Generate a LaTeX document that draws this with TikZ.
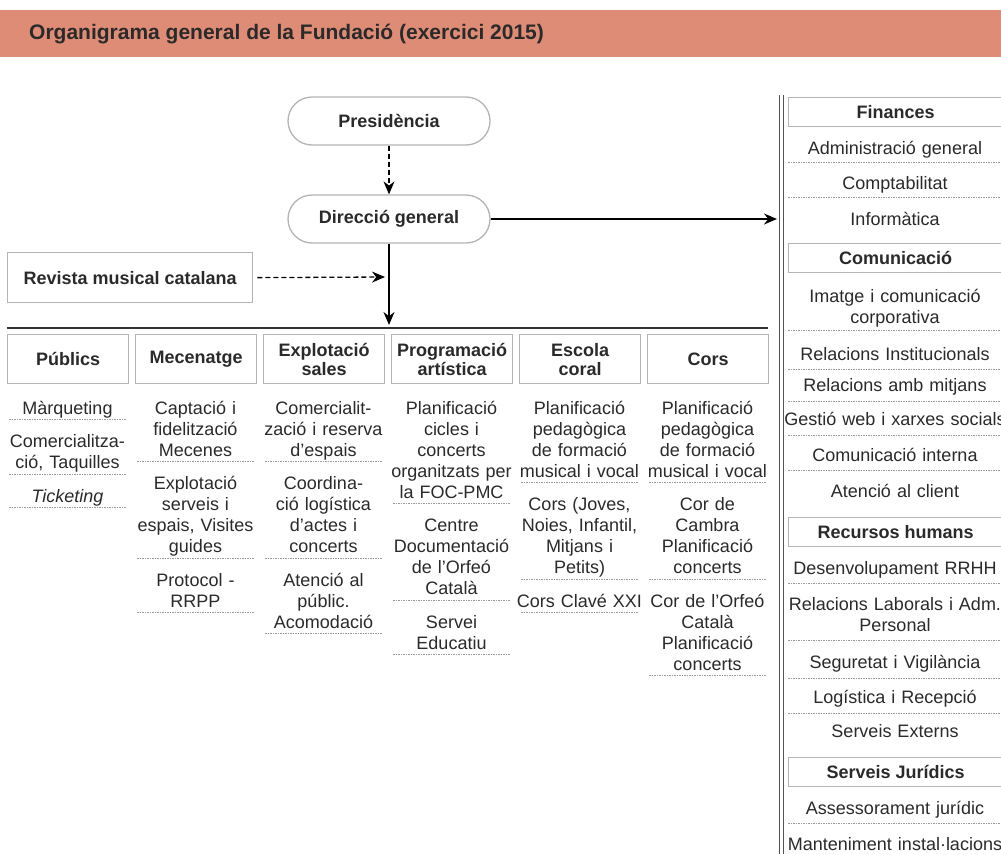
\documentclass[tikz,border=0pt]{standalone}
\usepackage{fontspec}
\setmainfont{Liberation Sans}
\usetikzlibrary{arrows.meta}
\definecolor{barcol}{HTML}{DE8C76}
\definecolor{boxgray}{HTML}{B4B4B4}
\definecolor{txt}{HTML}{2A2A2A}
\definecolor{sepgray}{HTML}{9A9A9A}
\definecolor{linecol}{HTML}{333333}
\begin{document}
\begin{tikzpicture}[x=1pt,y=-1pt,
  hdr/.style={draw=boxgray, line width=1.3pt, minimum width=121pt, minimum height=49pt,
    inner sep=0pt, align=center, anchor=north west, text=txt,
    font=\bfseries\fontsize{18}{19}\selectfont},
  rhdr/.style={draw=boxgray, line width=1.3pt, minimum width=214pt, minimum height=29pt,
    inner sep=0pt, anchor=north west, text=txt, font=\bfseries\fontsize{18}{20}\selectfont},
  pill/.style={draw=boxgray, line width=1.3pt, minimum width=202pt, minimum height=48pt,
    rounded corners=24pt, inner sep=0pt, text=txt, font=\bfseries\fontsize{18}{20}\selectfont},
  item/.style={text width=126pt, align=center, inner sep=0pt, anchor=base, text=txt,
    font=\fontsize{18}{21}\selectfont},
  ritem/.style={text width=240pt, align=center, inner sep=0pt, anchor=base, text=txt,
    font=\fontsize{18}{21}\selectfont},
  sepline/.style={draw=sepgray, line width=0.8pt, dash pattern=on 1.5pt off 1pt},
  solidarrow/.style={draw=black, line width=1.4pt, -{Stealth[length=13pt,width=11pt]}},
  dasharrow/.style={draw=black, line width=1.3pt, dash pattern=on 5pt off 3pt, -{Stealth[length=13pt,width=11pt]}}
]
\useasboundingbox (0,0) rectangle (1001,854);
\fill[white] (0,0) rectangle (1001,854);

% title bar
\fill[barcol] (0,10) rectangle (1001,57);
\node[anchor=west, inner sep=0pt, text=txt, font=\bfseries\fontsize{21}{23}\selectfont] (title) at (29,34) {Organigrama general de la Fundació (exercici 2015)};

% top
\node[pill] (pres) at (389,121) {Presidència};
\node[pill] (dir) at (389,219) {Direcció general};
\node[draw=boxgray, line width=1.3pt, minimum width=245pt, minimum height=50pt, inner sep=0pt,
  anchor=north west, text=txt, font=\bfseries\fontsize{18}{20}\selectfont] (rev) at (7,252) {Revista musical catalana};

\coordinate (finin) at (777,219);
\coordinate (hl) at (389,325);
\coordinate (revend) at (385,277);
\draw[dasharrow] (pres.south) -- (dir.north);
\draw[solidarrow] (dir.east) -- (finin);
\draw[solidarrow] (dir.south) -- (hl);
\draw[dasharrow, shorten <=4pt] (rev.east) -- (revend);

% horizontal and vertical rules
\draw[linecol, line width=2pt] (7,328) -- (768,328);
\draw[linecol!85, line width=0.9pt] (779,95) -- (779,854);
\draw[linecol!85, line width=0.9pt] (783,95) -- (783,854);

% column headers
\node[hdr] (hP) at (7,334) {Públics};
\node[hdr] (hM) at (135,334) {Mecenatge};
\node[hdr] (hE) at (263,334) {Explotació\\sales};
\node[hdr] (hG) at (391,334) {Programació\\artística};
\node[hdr] (hS) at (519,334) {Escola\\coral};
\node[hdr] (hC) at (647,334) {Cors};

% Públics
\node[item] (p1) at (67.5,414) {Màrqueting};
\draw[sepline] (9,419.5) -- (126,419.5);
\node[item] (p2) at (67.5,447.5) {Comercialitza-\\ció, Taquilles};
\draw[sepline] (9,474) -- (126,474);
\node[item] (p3) at (67.5,502) {\itshape Ticketing};
\draw[sepline] (9,507.5) -- (126,507.5);

% Mecenatge
\node[item] (m1) at (195.5,414) {Captació i\\fidelització\\Mecenes};
\draw[sepline] (137,461.5) -- (254,461.5);
\node[item] (m2) at (195.5,489.5) {Explotació\\serveis i\\espais, Visites\\guides};
\draw[sepline] (137,558) -- (254,558);
\node[item] (m3) at (195.5,586) {Protocol -\\RRPP};
\draw[sepline] (137,612.5) -- (254,612.5);

% Explotació sales
\node[item] (e1) at (323.5,414) {Comercialit-\\zació i reserva\\d’espais};
\draw[sepline] (265,461.5) -- (382,461.5);
\node[item] (e2) at (323.5,489.5) {Coordina-\\ció logística\\d’actes i\\concerts};
\draw[sepline] (265,558) -- (382,558);
\node[item] (e3) at (323.5,586) {Atenció al\\públic.\\Acomodació};
\draw[sepline] (265,633.5) -- (382,633.5);

% Programació artística
\node[item] (g1) at (451.5,414) {Planificació\\cicles i\\concerts\\organitzats per\\la FOC-PMC};
\draw[sepline] (393,503.5) -- (510,503.5);
\node[item] (g2) at (451.5,531.5) {Centre\\Documentació\\de l’Orfeó\\Català};
\draw[sepline] (393,600) -- (510,600);
\node[item] (g3) at (451.5,628) {Servei\\Educatiu};
\draw[sepline] (393,654.5) -- (510,654.5);

% Escola coral
\node[item] (s1) at (579.5,414) {Planificació\\pedagògica\\de formació\\musical i vocal};
\draw[sepline] (521,482.5) -- (638,482.5);
\node[item] (s2) at (579.5,510.5) {Cors (Joves,\\Noies, Infantil,\\Mitjans i\\Petits)};
\draw[sepline] (521,579) -- (638,579);
\node[item] (s3) at (579.5,607) {Cors Clavé XXI};
\draw[sepline] (521,612.5) -- (638,612.5);

% Cors
\node[item] (c1) at (707.5,414) {Planificació\\pedagògica\\de formació\\musical i vocal};
\draw[sepline] (649,482.5) -- (766,482.5);
\node[item] (c2) at (707.5,510.5) {Cor de\\Cambra\\Planificació\\concerts};
\draw[sepline] (649,579) -- (766,579);
\node[item] (c3) at (707.5,607) {Cor de l’Orfeó\\Català\\Planificació\\concerts};
\draw[sepline] (649,675.5) -- (766,675.5);

% right column
\node[rhdr] (fin) at (788,97) {Finances};
\node[ritem] (f1) at (895,154) {Administració general};
\draw[sepline] (788,162) -- (1001,162);
\node[ritem] (f2) at (895,189) {Comptabilitat};
\draw[sepline] (788,197.5) -- (1001,197.5);
\node[ritem] (f3) at (895,225) {Informàtica};

\node[rhdr] (com) at (788,243) {Comunicació};
\node[ritem] (k1) at (895,302) {Imatge i comunicació\\corporativa};
\draw[sepline] (788,330.5) -- (1001,330.5);
\node[ritem] (k2) at (895,360) {Relacions Institucionals};
\draw[sepline] (788,369) -- (1001,369);
\node[ritem] (k3) at (895,391) {Relacions amb mitjans};
\draw[sepline] (788,401) -- (1001,401);
\node[ritem] (k4) at (895,425) {Gestió web i xarxes socials};
\draw[sepline] (788,435) -- (1001,435);
\node[ritem] (k5) at (895,461) {Comunicació interna};
\draw[sepline] (788,470) -- (1001,470);
\node[ritem] (k6) at (895,497) {Atenció al client};

\node[rhdr] (rh) at (788,517) {Recursos humans};
\node[ritem] (r1) at (895,574) {Desenvolupament RRHH};
\draw[sepline] (788,583) -- (1001,583);
\node[ritem] (r2) at (895,610) {Relacions Laborals i Adm.\\Personal};
\draw[sepline] (788,640.5) -- (1001,640.5);
\node[ritem] (r3) at (895,668) {Seguretat i Vigilància};
\draw[sepline] (788,678) -- (1001,678);
\node[ritem] (r4) at (895,703) {Logística i Recepció};
\draw[sepline] (788,713) -- (1001,713);
\node[ritem] (r5) at (895,737) {Serveis Externs};

\node[rhdr] (jur) at (788,757) {Serveis Jurídics};
\node[ritem] (j1) at (895,814) {Assessorament jurídic};
\draw[sepline] (788,823) -- (1001,823);
\node[ritem] (j2) at (895,850) {Manteniment instal·lacions};
\end{tikzpicture}
\end{document}
